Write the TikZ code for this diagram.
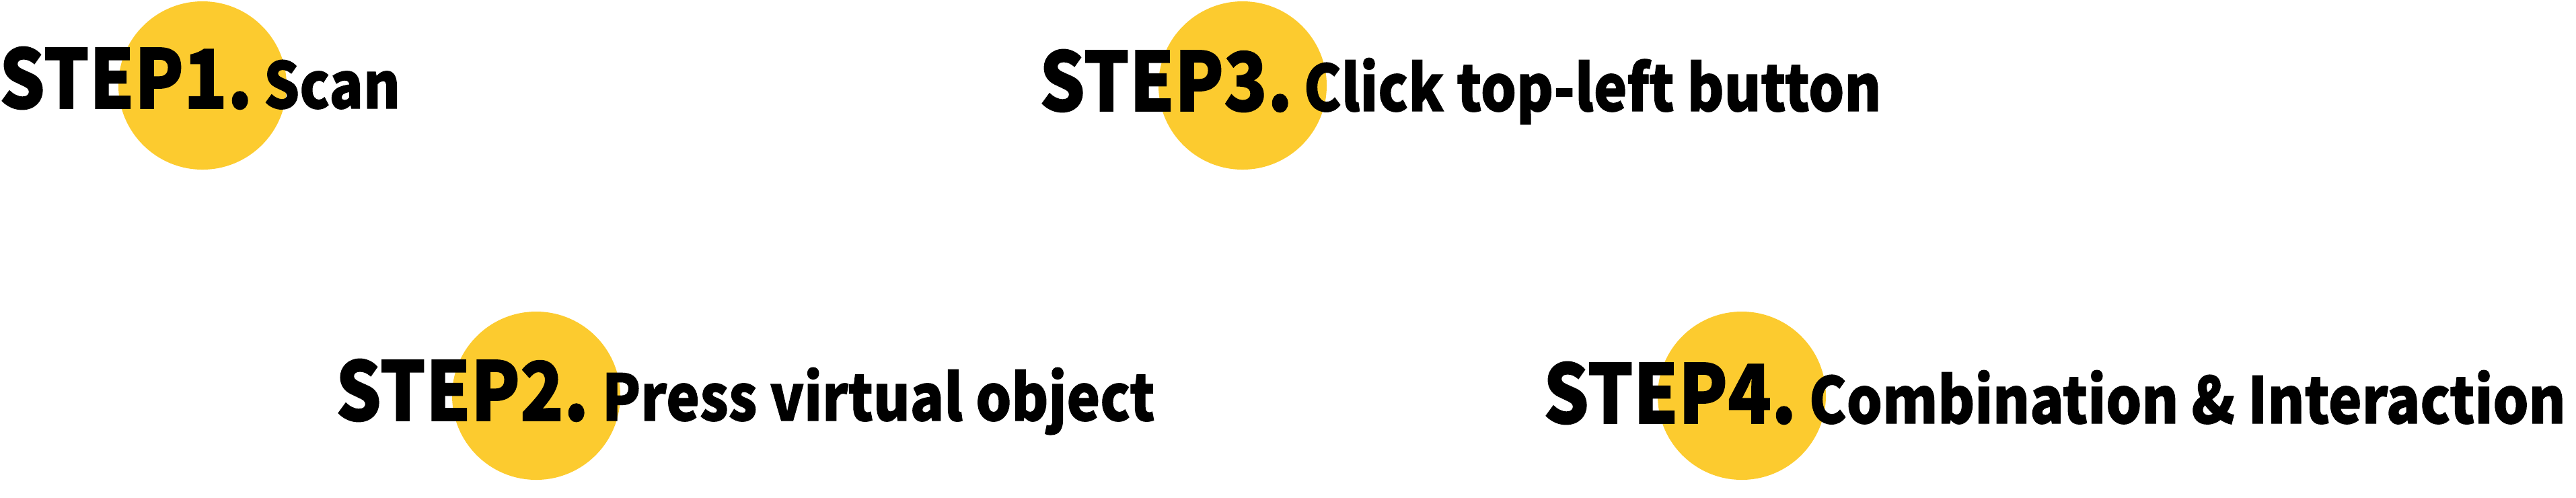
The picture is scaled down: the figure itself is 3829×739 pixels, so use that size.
\documentclass[tikz,border=0pt]{standalone}
\usepackage{fontspec}
\usepackage{graphicx}
\newfontfamily\stepfont{Noto Sans CJK SC}[BoldFeatures={FakeBold=1.2}]
\newcommand\narrowtext[1]{\scalebox{0.88}[1]{#1}}
\definecolor{stepyellow}{HTML}{FCCB2F}
\tikzset{
  dot/.style={circle, fill=stepyellow, draw=none, minimum size=50pt, inner sep=0pt},
  steplabel/.style={anchor=base west, inner sep=0pt, font=\stepfont\bfseries\fontsize{24.2pt}{28pt}\selectfont},
  desclabel/.style={anchor=base west, inner sep=0pt, font=\stepfont\bfseries\fontsize{19pt}{23pt}\selectfont}
}
\begin{document}
\begin{tikzpicture}[x=0.2pt,y=-0.2pt]
\useasboundingbox (0,0) rectangle (3829,739);
\node[dot] (c1) at (301,127) {};
\node[dot] (c3) at (1847,127) {};
\node[dot] (c2) at (797,588) {};
\node[dot] (c4) at (2589,588) {};
\node[steplabel] (s1) at (-2,161) {\narrowtext{STEP1.}};
\node[desclabel] (d1) at (391,161) {\narrowtext{Scan}};
\node[steplabel] (s3) at (1544,165) {\narrowtext{STEP3.}};
\node[desclabel] (d3) at (1937,165) {\narrowtext{Click top-left button}};
\node[steplabel] (s2) at (498,625) {\narrowtext{STEP2.}};
\node[desclabel] (d2) at (894,625) {\narrowtext{Press virtual object}};
\node[steplabel] (s4) at (2293,629) {\narrowtext{STEP4.}};
\node[desclabel] (d4) at (2688,629) {\narrowtext{Combination \& Interaction}};
\end{tikzpicture}
\end{document}
